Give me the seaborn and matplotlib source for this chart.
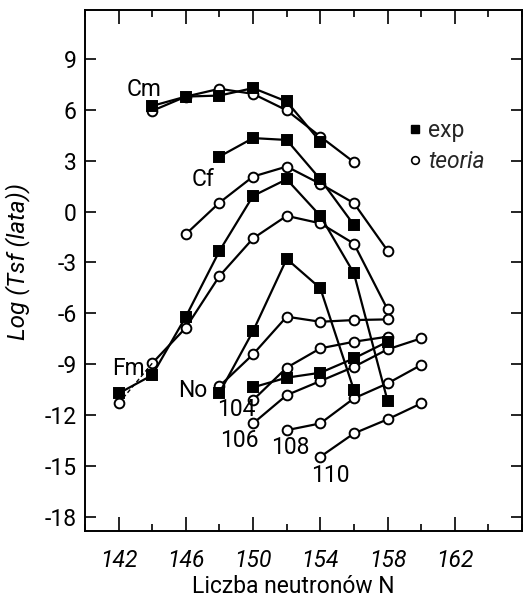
import matplotlib
matplotlib.use("Agg")
import matplotlib.pyplot as plt
from matplotlib.lines import Line2D
from matplotlib.ticker import MultipleLocator
import pandas as pd
import seaborn as sns

# log10 of spontaneous-fission half-life (years) versus neutron number N
cm_n_exp = [144, 146, 148, 150, 152, 154]
cm_exp = [6.24, 6.79, 6.85, 7.29, 6.5, 4.13]
cm_n_th = [144, 146, 148, 150, 152, 154, 156]
cm_th = [5.95, 6.79, 7.25, 6.95, 5.98, 4.43, 2.92]

cf_n_exp = [148, 150, 152, 154, 156]
cf_exp = [3.25, 4.34, 4.23, 1.91, -0.79]
cf_n_th = [146, 148, 150, 152, 154, 156, 158]
cf_th = [-1.33, 0.53, 2.07, 2.66, 1.64, 0.5, -2.3]

fm_n_exp = [142, 144, 146, 148, 150, 152, 154, 156, 158]
fm_exp = [-10.73, -9.65, -6.2, -2.32, 0.93, 1.91, -0.25, -3.64, -11.16]
fm_n_th = [142, 144, 146, 148, 150, 152, 154, 156, 158]
fm_th = [-11.32, -8.95, -6.85, -3.8, -1.58, -0.25, -0.69, -1.89, -5.77]

no_n_exp = [148, 150, 152, 154, 156]
no_exp = [-10.69, -7.05, -2.79, -4.52, -10.53]
no_n_th = [148, 150, 152, 154, 156, 158]
no_th = [-10.3, -8.42, -6.2, -6.5, -6.4, -6.36]

z104_n_exp = [150, 152, 154, 156, 158]
z104_exp = [-10.37, -9.8, -9.51, -8.66, -7.68]
z104_n_th = [150, 152, 154, 156, 158]
z104_th = [-11.12, -9.21, -8.07, -7.68, -7.38]

z106_n_th = [150, 152, 154, 156, 158, 160]
z106_th = [-12.5, -10.83, -10.0, -9.16, -8.13, -7.48]

z108_n_th = [152, 154, 156, 158, 160]
z108_th = [-12.9, -12.5, -11.02, -10.14, -9.05]

z110_n_th = [154, 156, 158, 160]
z110_th = [-14.47, -13.09, -12.26, -11.32]

element_labels = ["Cm", "Cf", "Fm", "No", "104", "106", "108", "110"]
label_n = [143.5, 147.05, 142.6, 146.4, 149.0, 149.2, 152.2, 154.6]
label_y = [7.2, 1.87, -9.25, -10.53, -11.7, -13.5, -13.9, -15.55]

x_ticks = [142, 146, 150, 154, 158, 162]
y_ticks = [9, 6, 3, 0, -3, -6, -9, -12, -15, -18]

sns.set_theme(style="ticks")
plt.rcParams["font.family"] = ["Roboto", "DejaVu Sans"]
plt.rcParams["axes.unicode_minus"] = False

FS = 16.5

fig = plt.figure(figsize=(5.27, 5.97), dpi=100)
ax = fig.add_axes([85 / 527, 1 - 531 / 597, 437 / 527, 521 / 597])

line_kw = dict(color="black", linewidth=1.6, markeredgecolor="black",
               markeredgewidth=1.4, legend=False, ax=ax)

exp_series = [(cm_n_exp, cm_exp), (cf_n_exp, cf_exp), (fm_n_exp, fm_exp),
              (no_n_exp, no_exp), (z104_n_exp, z104_exp)]
th_series = [(cm_n_th, cm_th), (cf_n_th, cf_th), (fm_n_th[1:], fm_th[1:]),
             (no_n_th, no_th), (z104_n_th, z104_th), (z106_n_th, z106_th),
             (z108_n_th, z108_th), (z110_n_th, z110_th)]

# theory curves: open circles
for n, v in th_series:
    df = pd.DataFrame({"N": n, "logT": v})
    sns.lineplot(data=df, x="N", y="logT", marker="o", markersize=7,
                 markerfacecolor="white", **line_kw)

# first Fm theory segment is drawn dashed
df = pd.DataFrame({"N": fm_n_th[:2], "logT": fm_th[:2]})
sns.lineplot(data=df, x="N", y="logT", color="black", linewidth=1.0,
             linestyle=(0, (3, 2)), legend=False, ax=ax)
ax.plot(fm_n_th[:1], fm_th[:1], linestyle="none", marker="o", markersize=7,
        markerfacecolor="white", markeredgecolor="black", markeredgewidth=1.4)

# measured values: filled squares
for n, v in exp_series:
    df = pd.DataFrame({"N": n, "logT": v})
    sns.lineplot(data=df, x="N", y="logT", marker="s", markersize=6.5,
                 markerfacecolor="black", **line_kw)

for lab, n, v in zip(element_labels, label_n, label_y):
    ax.text(n, v, lab, ha="center", va="center", fontsize=FS, color="black")

ax.set_xlim(140, 166)
ax.set_ylim(-18.85, 11.9)
ax.set_xticks(x_ticks)
ax.set_xticklabels([str(t) for t in x_ticks], fontstyle="italic")
ax.xaxis.set_minor_locator(MultipleLocator(2))
ax.set_yticks(y_ticks)
ax.set_yticklabels([str(t) for t in y_ticks])

ax.tick_params(axis="both", which="both", direction="in", top=True,
               right=True, colors="black", labelsize=FS, width=1.2)
ax.tick_params(axis="x", which="major", length=10, pad=13)
ax.tick_params(axis="x", which="minor", length=5)
ax.tick_params(axis="y", which="major", length=8, pad=6)
for sp in ax.spines.values():
    sp.set_linewidth(1.4)
    sp.set_color("black")

ax.set_xlabel("Liczba neutronów N", fontsize=FS, color="black")
ax.set_ylabel("Log (Tsf (lata))", fontsize=FS + 1, color="black",
              fontstyle="italic")
ax.xaxis.set_label_coords(0.476, -0.084)
ax.yaxis.set_label_coords(-0.125, 0.518)

handles = [
    Line2D([], [], linestyle="none", marker="s", markersize=5.5,
           markerfacecolor="black", markeredgecolor="black"),
    Line2D([], [], linestyle="none", marker="o", markersize=5.5,
           markerfacecolor="white", markeredgecolor="black",
           markeredgewidth=1.2),
]
leg = ax.legend(handles, ["exp", "teoria"], loc="upper left",
                bbox_to_anchor=(0.74, 0.79), frameon=False, fontsize=FS,
                handlelength=0.6, handletextpad=0.25, labelspacing=0.35,
                borderpad=0, borderaxespad=0)
leg.get_texts()[1].set_fontstyle("italic")

fig.savefig("out.png", dpi=100, facecolor="white")
